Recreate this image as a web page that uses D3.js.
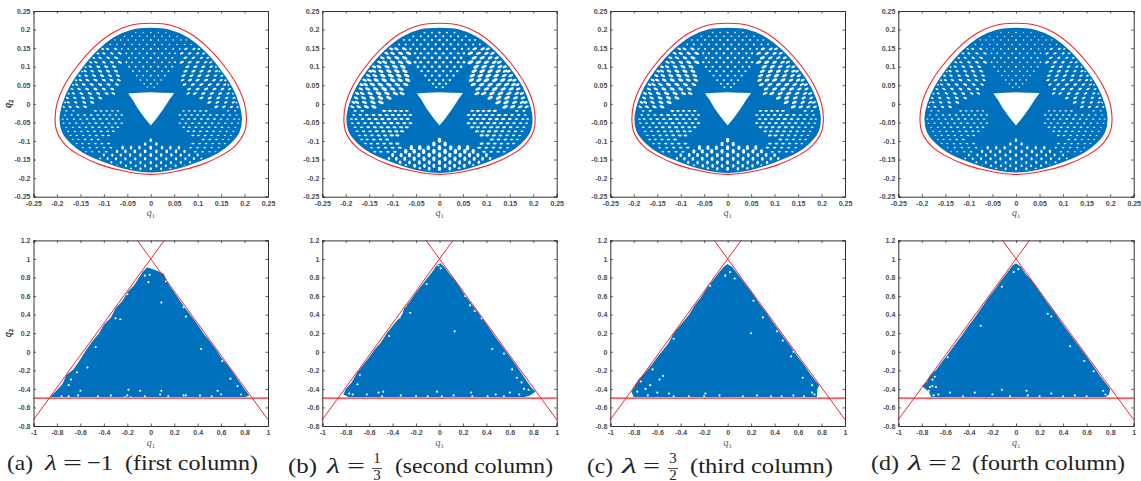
<!DOCTYPE html>
<html>
<head>
<meta charset="utf-8">
<script src="https://cdn.jsdelivr.net/npm/d3@7"></script>
<style>
body { margin: 0; background: white; }
svg { display: block; }
.tick text { font-family: "Liberation Sans", Arial, sans-serif; font-size: 7px; font-weight: 700; fill: #4a4a4a; }
.qlabel { font-family: "Liberation Serif", serif; font-style: italic; font-size: 10px; fill: #555; }
.qlabel tspan { font-size: 6.5px; font-style: normal; }
.caption { font-family: "Liberation Serif", serif; font-size: 22px; fill: #222; }
</style>
</head>
<body>
<svg id="chart" width="1141" height="481"></svg>
<script>
// tick labels
let ticksTop = [-0.25,-0.2,-0.15,-0.1,-0.05,0,0.05,0.1,0.15,0.2,0.25]
let ticksBottomX = [-1,-0.8,-0.6,-0.4,-0.2,0,0.2,0.4,0.6,0.8,1]
let ticksBottomY = [-0.8,-0.6,-0.4,-0.2,0,0.2,0.4,0.6,0.8,1,1.2]

// red level curve, right half, top to bottom [q1,q2]
let levelRight = [[0,0.217],[0.045,0.211],[0.083,0.19],[0.123,0.15],[0.158,0.1],[0.184,0.05],[0.2,0],[0.204,-0.04],[0.2,-0.075],[0.18,-0.113],[0.152,-0.138],[0.105,-0.165],[0.05,-0.183],[0,-0.19]]

// edge of the blue orbit, right half
let rimNarrow = [[0,0.203],[0.04,0.198],[0.076,0.179],[0.113,0.142],[0.146,0.094],[0.172,0.045],[0.187,0],[0.193,-0.04],[0.188,-0.075],[0.17,-0.105],[0.144,-0.13],[0.1,-0.155],[0.05,-0.175],[0,-0.183]]
let rimWide = [[0,0.203],[0.04,0.199],[0.078,0.18],[0.116,0.143],[0.15,0.095],[0.176,0.045],[0.191,0],[0.197,-0.04],[0.192,-0.076],[0.173,-0.106],[0.146,-0.131],[0.1,-0.156],[0.05,-0.176],[0,-0.184]]

// hole in the middle of the orbit
let hole = [[-0.048,0.028],[-0.025,0.03],[0,0.031],[0.025,0.03],[0.05,0.029],[0.04,0.012],[0.028,-0.012],[0.013,-0.038],[0,-0.058],[-0.013,-0.038],[-0.028,-0.012],[-0.038,0.01]]

// gaps in the weave, right half: [q2, [q1, ...]]
let gapsTop = [
  [0.192,[0,0.016,0.032]],
  [0.182,[0.008,0.024,0.04,0.056]],
  [0.172,[0,0.016,0.032,0.048,0.064,0.076]],
  [0.16,[0.008,0.024,0.04,0.056,0.072,0.086]],
  [0.148,[0,0.016,0.032,0.048,0.062]],
  [0.136,[0.008,0.024,0.04,0.052]],
  [0.124,[0,0.016,0.032,0.046]],
  [0.112,[0.008,0.024,0.04,0.052]],
  [0.1,[0,0.016,0.032,0.046]],
  [0.088,[0.008,0.024,0.038]],
  [0.076,[0,0.016,0.03]],
  [0.064,[0.008,0.022]],
  [0.054,[0,0.014]],
  [0.045,[0.007]]
]
let gapsUpper = [
  [0.148,[0.075,0.092,0.103]],
  [0.136,[0.066,0.083,0.1,0.113]],
  [0.124,[0.074,0.091,0.108,0.122]],
  [0.112,[0.066,0.083,0.1,0.117,0.128]],
  [0.1,[0.078,0.095,0.112,0.129,0.14]],
  [0.088,[0.074,0.091,0.108,0.125,0.14,0.148]],
  [0.076,[0.07,0.087,0.104,0.121,0.138,0.152]],
  [0.064,[0.068,0.084,0.1,0.118,0.135,0.15,0.16]],
  [0.052,[0.072,0.09,0.108,0.126,0.143,0.158,0.167]],
  [0.04,[0.082,0.1,0.118,0.136,0.153,0.168]],
  [0.028,[0.08,0.094,0.112,0.13,0.148,0.165,0.176]],
  [0.016,[0.108,0.126,0.144,0.162,0.178]],
  [0.004,[0.125,0.142,0.16,0.176,0.184]],
  [-0.008,[0.14,0.156,0.172,0.186]]
]
let gapsLower = [
  [-0.019,[0.07,0.082,0.094,0.106,0.118,0.165,0.18]],
  [-0.03,[0.062,0.074,0.087,0.1,0.113,0.127,0.141,0.155,0.169,0.183]],
  [-0.041,[0.068,0.081,0.094,0.108,0.122,0.136,0.15,0.164,0.178,0.188]],
  [-0.052,[0.062,0.075,0.089,0.103,0.117,0.131,0.145,0.159,0.173,0.186]],
  [-0.063,[0.07,0.082,0.096,0.11,0.124,0.138,0.152,0.166,0.18]],
  [-0.074,[0.08,0.092,0.106,0.12,0.134,0.148,0.162,0.176]],
  [-0.085,[0.09,0.102,0.116,0.13,0.144,0.158,0.171]],
  [-0.096,[0.112,0.126,0.14,0.154,0.166]],
  [-0.107,[0.09,0.104,0.118,0.132,0.146,0.158]],
  [-0.118,[0.085,0.1,0.115,0.13,0.145]],
  [-0.129,[0.095,0.11,0.125,0.138]]
]
let gapsBottom = [
  [-0.098,[0]],
  [-0.108,[0.012]],
  [-0.118,[0,0.024,0.042,0.06]],
  [-0.128,[0.012,0.034,0.054,0.072]],
  [-0.138,[0,0.022,0.044,0.064,0.082,0.1]],
  [-0.148,[0.012,0.033,0.054,0.074,0.092,0.108]],
  [-0.158,[0,0.022,0.043,0.064,0.084]],
  [-0.167,[0.012,0.032,0.053,0.072]],
  [-0.175,[0,0.022,0.042]]
]

// bounding lines of the triangle
let boundLines = [
  [[-1,-0.732],[0.115,1.2]],
  [[1,-0.732],[-0.115,1.2]],
  [[-1,-0.5],[1,-0.5]]
]

// filled orbit outline, one per column
let triA = [[-0.86,-0.49],[-0.82,-0.44],[-0.79,-0.4],[-0.75,-0.34],[-0.72,-0.25],[-0.66,-0.19],[-0.6,-0.08],[-0.56,0],[-0.5,0.11],[-0.44,0.2],[-0.4,0.29],[-0.34,0.37],[-0.3,0.47],[-0.24,0.55],[-0.2,0.64],[-0.14,0.72],[-0.1,0.8],[-0.07,0.86],[-0.03,0.91],[0.02,0.89],[0.08,0.86],[0.11,0.84],[0.16,0.71],[0.2,0.64],[0.26,0.53],[0.3,0.46],[0.36,0.36],[0.4,0.29],[0.46,0.18],[0.5,0.12],[0.56,0.02],[0.6,-0.06],[0.66,-0.15],[0.7,-0.22],[0.76,-0.33],[0.8,-0.4],[0.84,-0.47],[0.8,-0.49],[0.6,-0.495],[-0.6,-0.495]]
let triB = [[-0.82,-0.46],[-0.8,-0.4],[-0.75,-0.33],[-0.7,-0.22],[-0.65,-0.14],[-0.6,-0.06],[-0.55,0.03],[-0.5,0.1],[-0.45,0.2],[-0.4,0.28],[-0.32,0.4],[-0.3,0.47],[-0.25,0.55],[-0.2,0.64],[-0.15,0.72],[-0.1,0.8],[-0.05,0.88],[-0.02,0.94],[0.01,0.955],[0.05,0.9],[0.09,0.83],[0.14,0.76],[0.2,0.64],[0.27,0.52],[0.33,0.42],[0.4,0.3],[0.47,0.17],[0.54,0.05],[0.6,-0.05],[0.66,-0.16],[0.72,-0.27],[0.78,-0.38],[0.82,-0.43],[0.77,-0.47],[0.72,-0.49],[0.6,-0.495],[-0.7,-0.495],[-0.77,-0.49]]
let triC = [[-0.82,-0.43],[-0.8,-0.38],[-0.76,-0.3],[-0.7,-0.22],[-0.64,-0.13],[-0.6,-0.06],[-0.55,0.02],[-0.5,0.1],[-0.46,0.2],[-0.4,0.29],[-0.33,0.4],[-0.28,0.5],[-0.22,0.6],[-0.17,0.7],[-0.12,0.78],[-0.07,0.86],[-0.03,0.92],[0,0.945],[0.04,0.91],[0.09,0.83],[0.15,0.73],[0.21,0.63],[0.27,0.52],[0.33,0.42],[0.39,0.31],[0.46,0.19],[0.53,0.07],[0.59,-0.04],[0.65,-0.14],[0.71,-0.25],[0.78,-0.36],[0.765,-0.4],[0.76,-0.49],[0.6,-0.495],[-0.7,-0.495],[-0.8,-0.49]]
let triD = [[-0.8,-0.37],[-0.76,-0.33],[-0.73,-0.25],[-0.68,-0.2],[-0.63,-0.11],[-0.58,-0.03],[-0.53,0.06],[-0.47,0.16],[-0.41,0.27],[-0.35,0.37],[-0.29,0.48],[-0.23,0.59],[-0.18,0.67],[-0.12,0.78],[-0.07,0.86],[-0.03,0.93],[0,0.955],[0.04,0.92],[0.08,0.84],[0.14,0.76],[0.2,0.65],[0.26,0.54],[0.33,0.42],[0.39,0.31],[0.46,0.19],[0.53,0.07],[0.6,-0.05],[0.66,-0.16],[0.72,-0.27],[0.77,-0.35],[0.8,-0.4],[0.79,-0.46],[0.76,-0.49],[0.6,-0.495],[-0.65,-0.495],[-0.72,-0.49],[-0.74,-0.43]]

// white specks left open inside the filled orbit
let specksA = [[-0.7,-0.36],[-0.68,-0.3],[-0.63,-0.22],[-0.54,-0.17],[-0.76,-0.48],[-0.7,-0.48],[-0.62,-0.47],[-0.2,-0.47],[-0.22,-0.49],[-0.17,-0.49],[-0.09,-0.42],[-0.19,-0.41],[0.09,-0.42],[0.08,-0.46],[0.3,-0.47],[0.42,-0.47],[0.6,-0.46],[0.77,-0.46],[0.74,-0.37],[0.68,-0.29],[0.43,0.03],[0.42,0.29],[0.52,0.36],[0.3,0.38],[0.09,0.53],[0.16,0.84],[-0.2,0.62],[-0.26,0.35],[-0.3,0.36],[-0.05,0.82],[-0.01,0.83],[-0.02,0.75],[0.28,-0.47],[-0.45,-0.48],[-0.34,-0.47],[-0.05,-0.48],[0.15,-0.48],[0.52,-0.48],[-0.6,-0.42],[0.57,-0.42],[0.13,0.76],[0.28,0.48],[0.61,-0.1],[-0.47,0.05]]
let specksB = [[-0.77,-0.45],[-0.74,-0.46],[-0.7,-0.35],[-0.68,-0.25],[-0.52,-0.44],[-0.48,-0.43],[-0.49,-0.48],[-0.2,-0.48],[-0.02,-0.43],[0.02,-0.48],[0.27,-0.44],[0.28,-0.48],[0.55,-0.48],[0.6,-0.44],[0.68,-0.46],[0.72,-0.4],[0.76,-0.41],[0.66,-0.28],[0.7,-0.33],[0.62,-0.19],[0.55,-0.02],[0.36,0.36],[0.33,0.45],[0.26,0.5],[0.3,0.44],[-0.25,0.42],[-0.34,0.37],[-0.29,0.49],[-0.11,0.73],[-0.01,0.93],[0.01,0.9],[0.13,0.22],[0.45,0.03],[-0.62,-0.46],[-0.33,-0.47],[-0.1,-0.48],[0.12,-0.47],[0.41,-0.48],[0.48,-0.46],[0.22,0.6],[-0.43,0.17]]
let specksC = [[-0.77,-0.43],[-0.74,-0.32],[-0.64,-0.19],[-0.58,-0.3],[-0.55,-0.26],[-0.6,-0.44],[-0.5,-0.45],[-0.46,-0.48],[-0.2,-0.48],[-0.19,-0.45],[0.13,-0.48],[0.37,-0.48],[0.56,-0.47],[0.72,-0.44],[0.74,-0.46],[0.72,-0.36],[0.64,-0.28],[0.54,-0.05],[0.56,0],[0.47,0.12],[0.42,0.22],[0.3,0.37],[0.22,0.55],[0.2,0.2],[-0.02,0.82],[0.06,0.79],[0.02,0.86],[-0.15,0.71],[-0.24,0.58],[-0.46,0.14],[-0.68,-0.47],[-0.33,-0.48],[-0.07,-0.47],[0.25,-0.47],[0.46,-0.48],[0.65,-0.48],[-0.7,-0.4],[-0.66,-0.36]]
let specksD = [[-0.73,-0.38],[-0.71,-0.37],[-0.68,-0.38],[-0.74,-0.42],[-0.7,-0.47],[-0.66,-0.46],[-0.71,-0.3],[-0.69,-0.27],[-0.56,-0.44],[-0.35,-0.44],[-0.2,-0.46],[-0.12,-0.41],[0.09,-0.42],[0.1,-0.47],[0.3,-0.45],[0.5,-0.47],[0.74,-0.42],[0.76,-0.46],[0.66,-0.21],[0.58,-0.1],[0.27,0.41],[0.3,0.38],[0.46,0.06],[-0.12,0.7],[-0.02,0.86],[0.02,0.89],[-0.58,-0.06],[-0.3,0.28],[-0.45,-0.48],[-0.05,-0.48],[0.2,-0.48],[0.4,-0.48],[0.6,-0.48]]

// caption pieces [text, x, width], baseline and fraction per column
let captionTextA = [["(a)",7,26],["\u03bb",45,12],["=",63,19],["\u22121",87,26],["(first column)",125,133]]
let captionTextB = [["(b)",288,29],["\u03bb",327,13],["=",347,18],["(second column)",395,158]]
let captionTextC = [["(c)",587,26],["\u03bb",622,15],["=",643,17],["(third column)",690,143]]
let captionTextD = [["(d)",871,28],["\u03bb",908,14],["=",928,19],["2",951,10],["(fourth column)",972,153]]

let lobeStyles = [
  {rows: gapsTop, rx: 1.4, ry: 1.25, angle: 0},
  {rows: gapsUpper, rx: 3.1, ry: 1.55, angle: -22},
  {rows: gapsLower, rx: 2.2, ry: 1.1, angle: -4},
  {rows: gapsBottom, rx: 1.8, ry: 2.6, angle: 0}
]

let columns = [
  {x0: 33.5, x1: 268, tri: triA, specks: specksA, rim: rimNarrow, gap: 0.72},
  {x0: 322.3, x1: 556.7, tri: triB, specks: specksB, rim: rimWide, gap: 1},
  {x0: 610.3, x1: 845, tri: triC, specks: specksC, rim: rimWide, gap: 0.9},
  {x0: 898.3, x1: 1133.7, tri: triD, specks: specksD, rim: rimNarrow, gap: 0.68}
]
let captions = [
  {parts: captionTextA, base: 470},
  {parts: captionTextB, base: 473, num: "1", den: "3", fx: 377},
  {parts: captionTextC, base: 473, num: "3", den: "2", fx: 673},
  {parts: captionTextD, base: 470}
]

const blue = "#0072bd"
const red = "#f4262b"
const axisColor = "#333"
let svg = d3.select("#chart")

// closes a right half into the full curve
function mirrorHalf(half) {
  let left = half.slice(1, -1).reverse().map(function(d){ return [-d[0], d[1]] })
  return half.concat(left)
}

// box with inward ticks on all four sides
function drawAxes(g, x, y, xTicks, yTicks, xOff, yOff) {
  let x0 = x.range()[0], x1 = x.range()[1]
  let y0 = y.range()[0], y1 = y.range()[1]
  let fmt = function(d){ return String(d) }
  let sides = [
    d3.axisBottom(x).tickValues(xTicks).tickSize(-2.5).tickPadding(xOff).tickFormat(fmt),
    d3.axisLeft(y).tickValues(yTicks).tickSize(-2.5).tickPadding(yOff).tickFormat(fmt),
    d3.axisTop(x).tickValues(xTicks).tickSize(-2.5).tickFormat(""),
    d3.axisRight(y).tickValues(yTicks).tickSize(-2.5).tickFormat("")
  ]
  let moves = [[0,y0],[x0,0],[0,y1],[x1,0]]
  sides.forEach(function(axis, i){
    let a = g.append("g").attr("transform", "translate(" + moves[i] + ")").call(axis)
    a.selectAll("path").attr("stroke", axisColor).attr("stroke-width", 1)
    a.selectAll("line").attr("stroke", axisColor).attr("stroke-width", 0.8)
  })
}

function drawQLabels(g, x, y, belowX, leftY) {
  let tx = g.append("text").attr("class","qlabel").attr("text-anchor","middle")
    .attr("x", (x.range()[0]+x.range()[1])/2 ).attr("y", belowX)
  tx.append("tspan").style("font-size","10px").style("font-style","italic").text("q")
  tx.append("tspan").attr("dy",1.5).text("1")
  let ty = g.append("text").attr("class","qlabel").attr("text-anchor","middle")
    .attr("transform","translate(" + leftY + "," + (y.range()[0]+y.range()[1])/2 + ") rotate(-90)")
  ty.append("tspan").style("font-size","10px").style("font-style","italic").text("q")
  ty.append("tspan").attr("dy",1.5).text("2")
}

// upper row: orbit with the level curve
function drawOrbit(col) {
  let x = d3.scaleLinear().domain([-0.25,0.25]).range([col.x0,col.x1])
  let y = d3.scaleLinear().domain([-0.25,0.25]).range([196.7,11])
  let g = svg.append("g")
  let closed = d3.line().x(function(d){ return x(d[0]) }).y(function(d){ return y(d[1]) }).curve(d3.curveCatmullRomClosed)
  let straight = d3.line().x(function(d){ return x(d[0]) }).y(function(d){ return y(d[1]) }).curve(d3.curveLinearClosed)
  let rim = mirrorHalf(col.rim)

  g.append("path").attr("d", closed(rim) + straight(hole))
    .attr("fill", blue).attr("fill-rule", "evenodd")

  // spots get thin near the rim and near the star
  let taper = d3.scaleLinear().domain([0.05,0.13,0.2]).range([0.8,1,0.65]).clamp(true)
  lobeStyles.forEach(function(lobe){
    lobe.rows.forEach(function(row){
      row[1].forEach(function(q1){
        [1,-1].forEach(function(side){
          let k = taper(Math.hypot(q1,row[0])) * col.gap
          g.append("ellipse")
            .attr("rx", lobe.rx*k).attr("ry", lobe.ry*k)
            .attr("transform", "translate(" + x(side*q1) + "," + y(row[0]) + ") rotate(" + (side*lobe.angle) + ")")
            .attr("fill", "white")
        })
      })
    })
  })
  g.append("path").attr("d", closed(rim)).attr("fill","none").attr("stroke",blue).attr("stroke-width",1.4)
  g.append("path").attr("d", closed(mirrorHalf(levelRight))).attr("fill","none").attr("stroke",red).attr("stroke-width",1.1)

  drawAxes(g, x, y, ticksTop, ticksTop, 4.5, 3)
  drawQLabels(g, x, y, 216, 11)
}

// lower row: filled triangle with the bounding lines
function drawTriangle(col) {
  let x = d3.scaleLinear().domain([-1,1]).range([col.x0,col.x1])
  let y = d3.scaleLinear().domain([-0.8,1.2]).range([426,240.4])
  let g = svg.append("g")
  let line = d3.line().x(function(d){ return x(d[0]) }).y(function(d){ return y(d[1]) })

  g.append("path").attr("d", line(col.tri) + "Z").attr("fill", blue)
  g.selectAll("circle").data(col.specks).enter().append("circle")
    .attr("cx", function(d){ return x(d[0]) }).attr("cy", function(d){ return y(d[1]) })
    .attr("r", 1.05).attr("fill", "white")

  // pale band around the base line
  g.append("path").attr("d", line(boundLines[2])).attr("stroke","#f8c8c8").attr("stroke-width",2.2).attr("fill","none")
  boundLines.forEach(function(d){
    g.append("path").attr("d", line(d)).attr("stroke",red).attr("stroke-width",1).attr("fill","none")
  })
  drawAxes(g, x, y, ticksBottomX, ticksBottomY, 4.5, 3)
  drawQLabels(g, x, y, 446, 11)
}

function drawCaption(cap) {
  let g = svg.append("g")
  cap.parts.forEach(function(p){
    g.append("text").attr("class","caption")
      .attr("x", p[1]).attr("y", cap.base)
      .attr("textLength", p[2]).attr("lengthAdjust","spacingAndGlyphs")
      .style("font-style", p[0]=="\u03bb" ? "italic" : "normal")
      .text(p[0])
  })
  if (cap.num) {
    g.append("text").attr("class","caption").attr("text-anchor","middle").attr("x",cap.fx).attr("y",463).style("font-size","15px").text(cap.num)
    g.append("line").attr("x1",cap.fx-5).attr("x2",cap.fx+5).attr("y1",468.5).attr("y2",468.5).attr("stroke","#222").attr("stroke-width",0.8)
    g.append("text").attr("class","caption").attr("text-anchor","middle").attr("x",cap.fx).attr("y",479.5).style("font-size","15px").text(cap.den)
  }
}

columns.forEach(function(col){
  drawOrbit(col)
  drawTriangle(col)
})
captions.forEach(drawCaption)
</script>
</body>
</html>
